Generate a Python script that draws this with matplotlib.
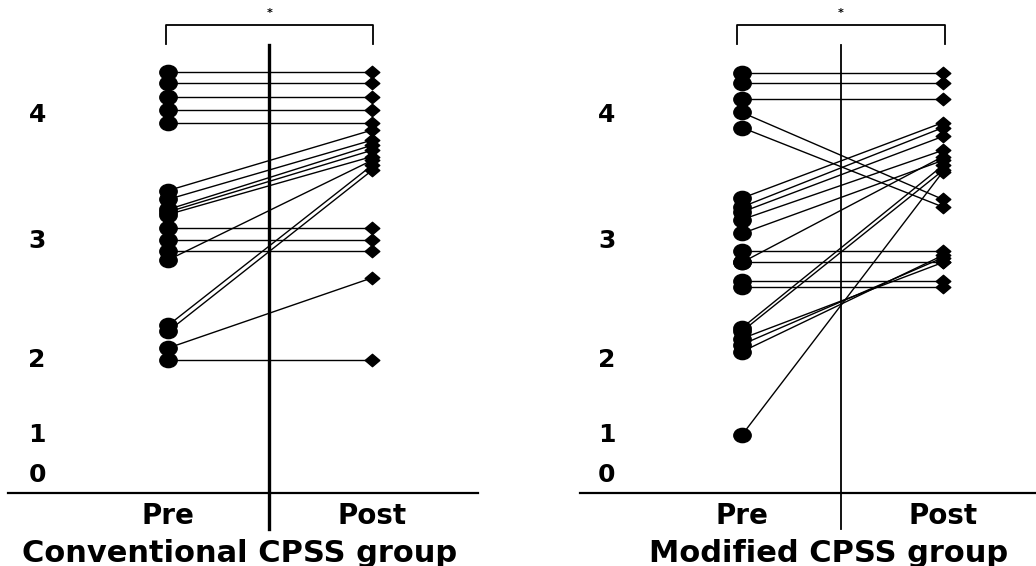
import numpy as np
import matplotlib
matplotlib.use("Agg")
import matplotlib.pyplot as plt
from matplotlib.path import Path
from matplotlib.transforms import Affine2D

# Scores per subject, Pre -> Post
conv_pre = [4.34, 4.25, 4.14, 4.04, 3.94, 3.40, 3.33, 3.25, 3.23, 3.21,
            3.10, 3.01, 2.92, 2.84, 2.29, 2.24, 2.10, 2.00]
conv_post = [4.34, 4.25, 4.14, 4.04, 3.94, 3.88, 3.80, 3.76, 3.72, 3.67,
             3.10, 3.01, 2.92, 3.64, 3.60, 3.56, 2.69, 2.00]

mod_pre = [4.33, 4.25, 4.13, 4.02, 3.90, 3.34, 3.27, 3.23, 3.17, 3.06,
           2.92, 2.82, 2.82, 2.66, 2.61, 2.27, 2.24, 2.18, 2.13, 2.07, 1.00]
mod_post = [4.33, 4.25, 4.13, 3.33, 3.27, 3.94, 3.90, 3.83, 3.72, 3.64,
            2.92, 3.67, 2.82, 2.66, 2.61, 3.60, 3.56, 2.82, 2.86, 2.88, 3.55]

y_ticks = [0, 1, 2, 3, 4]
x_labels = ["Pre", "Post"]
group_titles = ["Conventional CPSS group", "Modified CPSS group"]

# the original axis is not evenly spaced: 0..4 sit at uneven heights
knot_vals = np.array([-4.0, -2.0, 0.0, 1.0, 2.0, 3.0, 4.0, 6.0])
knot_pos = np.array([635.0, 555.0, 475.0, 435.0, 360.0, 241.0, 115.0, -137.0])


def fwd(v):
    return -np.interp(v, knot_vals, knot_pos)


def inv(y):
    return np.interp(-np.asarray(y), knot_pos[::-1], knot_vals[::-1])


ellipse = Path.unit_circle().transformed(Affine2D().scale(1.0, 0.82))
diamond = Path([(-1, 0), (0, 0.85), (1, 0), (0, -0.85), (-1, 0)],
               [Path.MOVETO, Path.LINETO, Path.LINETO, Path.LINETO, Path.CLOSEPOLY])

W, H = 1036, 566
fig = plt.figure(figsize=(W / 100, H / 100), dpi=100)
plt.rcParams['font.family'] = ['DejaVu Sans']

panels = [
    # axes left px, width px, xlim, center line x, center lw, bracket x
    (8, 470, (-0.784, 1.520), 0.495, 2.4, (-0.01, 1.005), conv_pre, conv_post),
    (580, 456, (-0.806, 1.463), 0.493, 1.3, (-0.025, 1.01), mod_pre, mod_post),
]

base_px, top_px = 493, 10
for i, (left, width, xlim, cx, clw, (bx0, bx1), pre, post) in enumerate(panels):
    ax = fig.add_axes([left / W, (H - base_px) / H, width / W, (base_px - top_px) / H])
    ax.set_yscale('function', functions=(fwd, inv))
    ax.set_ylim(float(inv(-base_px)), float(inv(-top_px)))
    ax.set_xlim(*xlim)
    for s in ['top', 'right', 'left']:
        ax.spines[s].set_visible(False)
    ax.spines['bottom'].set_linewidth(1.6)
    ax.set_xticks([])
    ax.set_yticks([])

    # subject lines
    for a, b in zip(pre, post):
        ax.plot([0, 1], [a, b], color='black', lw=1.0, zorder=2)
    ax.plot(np.zeros(len(pre)), pre, linestyle='none', marker=ellipse,
            markersize=12.5, color='black', zorder=3)
    ax.plot(np.ones(len(post)), post, linestyle='none', marker=diamond,
            markersize=10.5, color='black', zorder=3)

    # divider line between Pre and Post
    ax.plot([cx, cx], [inv(-45), inv(-529)], color='black', lw=clw,
            clip_on=False, zorder=1)

    # significance bracket
    ax.plot([bx0, bx0, bx1, bx1], [inv(-44), inv(-25), inv(-25), inv(-44)],
            color='black', lw=1.3, clip_on=False)
    ax.text((bx0 + bx1) / 2, inv(-13), "*", ha='center', va='center',
            fontsize=8, fontweight='bold')

    # y labels drawn inside the panel
    tx = 0.062 if i == 0 else 0.059
    for t in y_ticks:
        ax.text(tx, t, str(t), transform=ax.get_yaxis_transform(),
                ha='center', va='center', fontsize=18, fontweight='bold')

    for xv, lab in zip([0, 1], x_labels):
        ax.text(xv, -0.048, lab, transform=ax.get_xaxis_transform(),
                ha='center', va='center', fontsize=20, fontweight='bold')

title_x = [240, 829]
for tx, title in zip(title_x, group_titles):
    fig.text(tx / W, (H - 553) / H, title, ha='center', va='center',
             fontsize=22, fontweight='bold')

fig.savefig("out.png", dpi=100)
